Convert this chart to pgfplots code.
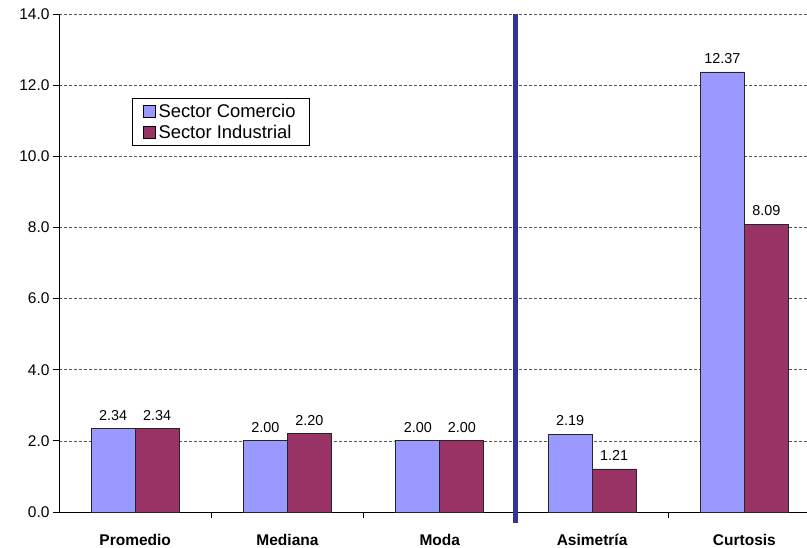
\documentclass[border=0pt]{standalone}
\usepackage{fontspec}
\setmainfont{Liberation Sans}
\usepackage{pgfplots}
\pgfplotsset{compat=1.18}
\definecolor{comercio}{HTML}{9999FF}
\definecolor{industrial}{HTML}{993366}
\definecolor{sepline}{HTML}{333399}
\definecolor{gridc}{HTML}{555555}
\begin{document}
\begin{tikzpicture}
\path[use as bounding box] (-59pt,-36pt) rectangle (748pt,512pt);
\begin{axis}[
  scale only axis, width=748pt, height=498pt,
  at={(0pt,0pt)}, anchor=south west,
  xmin=-0.5, xmax=4.411, ymin=0, ymax=14,
  axis x line=bottom, axis y line=left,
  axis line style={-, black, line width=0.8pt},
  ybar=0pt, bar width=44pt,
  /pgf/number format/assume math mode=true,
  ytick={0,2,...,14},
  yticklabel style={/pgf/number format/.cd, fixed, fixed zerofill, precision=1},
  tick label style={font=\fontsize{15.5}{18}\selectfont},
  tick align=outside, major tick length=6pt,
  tick style={black, line width=0.8pt},
  ymajorgrids, grid style={gridc, dash pattern=on 3pt off 2pt, line width=0.7pt},
  xtick={0.5,1.5,2.5,3.5}, xticklabels={},
  extra x ticks={0,1,2,3,4},
  extra x tick labels={Promedio,Mediana,Moda,Asimetría,Curtosis},
  extra x tick style={major tick length=0pt, grid=none,
    tick label style={font=\fontsize{15.5}{18}\selectfont\bfseries, yshift=-19pt}},
  nodes near coords,
  nodes near coords style={font=\fontsize{14.4}{16}\selectfont, inner sep=0pt, yshift=8pt,
    /pgf/number format/.cd, fixed, fixed zerofill, precision=2},
  legend image code/.code={\draw[#1, draw=black, line width=0.6pt] (0pt,-6pt) rectangle (12pt,6pt);},
  legend style={at={(rel axis cs:0.0976,0.831)}, anchor=north west,
    draw=black, line width=0.8pt, font=\fontsize{18.4}{21}\selectfont,
    inner xsep=11pt, inner ysep=3pt, row sep=1pt,
    nodes={inner sep=2.5pt}},
  legend cell align=left,
  clip=false,
]
\addplot[fill=comercio, draw=black!85, line width=0.8pt] coordinates {(0,2.34) (1,2.00) (2,2.00) (3,2.19) (4,12.37)};
\addplot[fill=industrial, draw=black!85, line width=0.8pt] coordinates {(0,2.34) (1,2.20) (2,2.00) (3,1.21) (4,8.09)};
\legend{Sector Comercio, Sector Industrial}
\draw[sepline, line width=5pt] (axis cs:2.5,14) -- ([yshift=-11pt]axis cs:2.5,0);
\end{axis}
\end{tikzpicture}
\end{document}
